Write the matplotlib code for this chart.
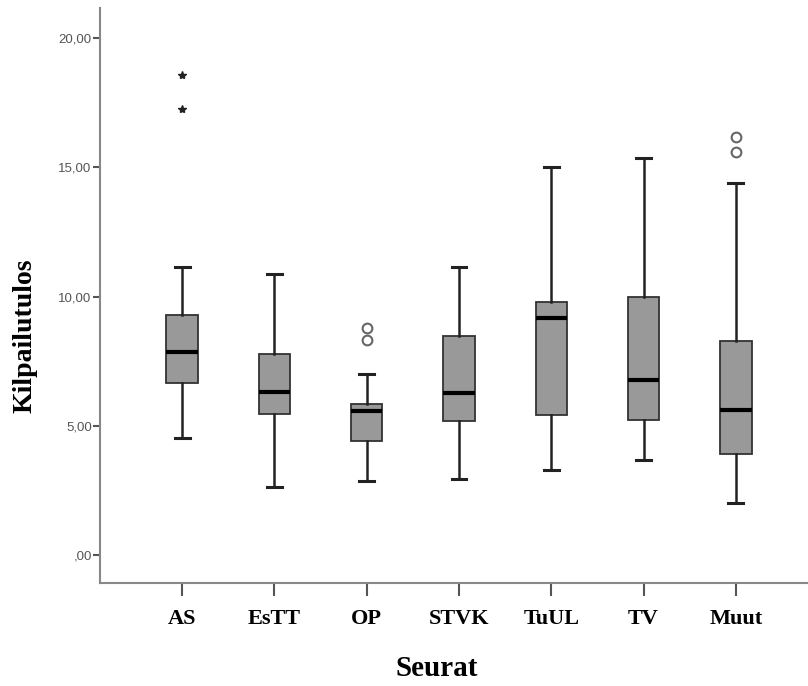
import matplotlib
matplotlib.use("Agg")
import matplotlib.pyplot as plt
from matplotlib.ticker import FuncFormatter

# Boxplot summary values
seurat = ["AS", "EsTT", "OP", "STVK", "TuUL", "TV", "Muut"]
whislo = [4.53, 2.63, 2.86, 2.94, 3.29, 3.67, 2.01]
q1 = [6.65, 5.45, 4.41, 5.18, 5.42, 5.22, 3.91]
med = [7.85, 6.31, 5.57, 6.27, 9.17, 6.77, 5.61]
q3 = [9.28, 7.78, 5.84, 8.47, 9.79, 9.98, 8.28]
whishi = [11.14, 10.87, 7.00, 11.14, 15.00, 15.36, 14.39]

# outliers: circles (mild) and stars (extreme)
circles = {"OP": [8.78, 8.32], "Muut": [16.17, 15.59]}
stars = {"AS": [18.57, 17.25]}

fig = plt.figure(figsize=(8.08, 6.86), dpi=100)
ax = fig.add_axes([0.1238, 0.150, 0.876, 0.838])

stats = []
for i, name in enumerate(seurat):
    stats.append({
        "label": name,
        "whislo": whislo[i],
        "q1": q1[i],
        "med": med[i],
        "q3": q3[i],
        "whishi": whishi[i],
        "fliers": [],
    })

pos = list(range(len(seurat)))
ax.bxp(stats, positions=pos, widths=0.34, patch_artist=True, showfliers=False,
       capwidths=0.16,
       boxprops=dict(facecolor="#999999", edgecolor="#333333", linewidth=1.3),
       medianprops=dict(color="black", linewidth=3),
       whiskerprops=dict(color="#222222", linewidth=1.8),
       capprops=dict(color="#222222", linewidth=2.2))

for name, vals in circles.items():
    x = seurat.index(name)
    ax.plot([x] * len(vals), vals, linestyle="none", marker="o", markersize=7,
            markerfacecolor="white", markeredgecolor="#666666", markeredgewidth=1.5)
for name, vals in stars.items():
    x = seurat.index(name)
    ax.plot([x] * len(vals), vals, linestyle="none", marker="*", markersize=6,
            color="#222222")

ax.set_xlim(-0.89, 6.78)
ax.set_ylim(-1.08, 21.16)
ax.set_yticks([0, 5, 10, 15, 20])
ax.yaxis.set_major_formatter(FuncFormatter(
    lambda v, p: ",00" if v == 0 else f"{v:.2f}".replace(".", ",")))

ax.set_xticks(pos)
ax.set_xticklabels(seurat, fontfamily="Liberation Serif", fontweight="bold",
                   fontsize=16)
for lab in ax.get_yticklabels():
    lab.set_fontfamily("Liberation Sans")
    lab.set_fontsize(9.5)
    lab.set_color("#555555")

ax.spines["top"].set_visible(False)
ax.spines["right"].set_visible(False)
ax.spines["left"].set_color("#888888")
ax.spines["bottom"].set_color("#888888")
ax.spines["left"].set_linewidth(1.5)
ax.spines["bottom"].set_linewidth(1.5)
ax.tick_params(axis="y", length=5, width=1.5, color="#555555", pad=1)
ax.tick_params(axis="x", length=9, width=1.5, color="#555555", pad=10)

ax.set_ylabel("Kilpailutulos", fontfamily="Liberation Serif", fontweight="bold",
              fontsize=20)
ax.yaxis.set_label_coords(-0.089, 0.43)
ax.set_xlabel("Seurat", fontfamily="Liberation Serif", fontweight="bold",
              fontsize=21)
ax.xaxis.set_label_coords(0.476, -0.125)

fig.savefig("out.png", dpi=100)
